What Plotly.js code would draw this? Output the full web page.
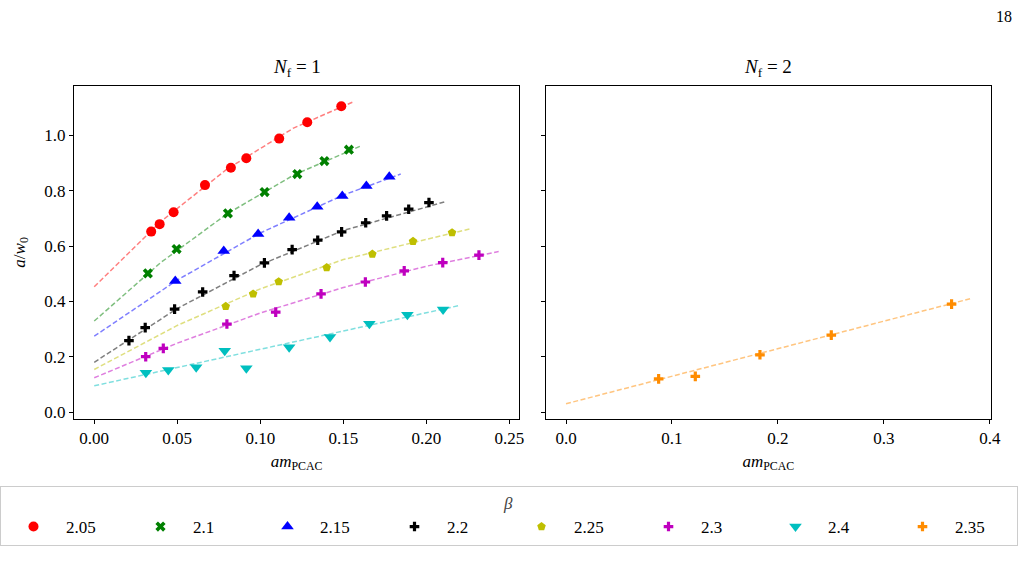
<!DOCTYPE html>
<html>
<head>
<meta charset="utf-8">
<script src="https://cdn.plot.ly/plotly-3.0.1.min.js"></script>
<style>html,body{margin:0;padding:0;background:#fff;}#chart{width:1019px;height:584px;}</style>
</head>
<body>
<div id="chart"></div>
<script>
// ---- data ----
const betaLabels = ["2.05", "2.1", "2.15", "2.2", "2.25", "2.3", "2.4", "2.35"];

// N_f = 1 panel
const x205 = [0.0343, 0.0394, 0.0478, 0.0667, 0.0823, 0.0916, 0.1114, 0.1283, 0.1488];
const y205 = [0.652, 0.679, 0.722, 0.820, 0.883, 0.917, 0.988, 1.047, 1.105];
const fx205 = [0, 0.04, 0.08, 0.12, 0.1564];
const fy205 = [0.453, 0.688, 0.878, 1.026, 1.122];

const x210 = [0.0323, 0.0496, 0.0805, 0.1026, 0.1223, 0.1386, 0.1534];
const y210 = [0.501, 0.589, 0.718, 0.795, 0.860, 0.907, 0.948];
const fx210 = [0, 0.04, 0.08, 0.12, 0.1608];
const fy210 = [0.329, 0.540, 0.716, 0.856, 0.962];

const x215 = [0.0488, 0.0780, 0.0987, 0.1174, 0.1343, 0.1494, 0.1639, 0.1777];
const y215 = [0.474, 0.582, 0.643, 0.702, 0.742, 0.781, 0.817, 0.850];
const fx215 = [0, 0.05, 0.10, 0.15, 0.1846];
const fy215 = [0.274, 0.477, 0.647, 0.784, 0.860];

const x220 = [0.0209, 0.0307, 0.0484, 0.0653, 0.0842, 0.1025, 0.1192, 0.1346, 0.1490, 0.1635, 0.1761, 0.1894, 0.2016];
const y220 = [0.258, 0.305, 0.372, 0.434, 0.493, 0.539, 0.587, 0.621, 0.651, 0.684, 0.709, 0.733, 0.757];
const fx220 = [0, 0.05, 0.10, 0.15, 0.2108];
const fy220 = [0.180, 0.374, 0.532, 0.656, 0.759];

const x225 = [0.0792, 0.0957, 0.1111, 0.1400, 0.1675, 0.1920, 0.2155];
const y225 = [0.382, 0.427, 0.471, 0.522, 0.571, 0.617, 0.648];
const fx225 = [0, 0.05, 0.10, 0.15, 0.2263];
const fy225 = [0.154, 0.313, 0.445, 0.551, 0.662];

const x230 = [0.0310, 0.0416, 0.0799, 0.1093, 0.1366, 0.1633, 0.1867, 0.2099, 0.2317];
const y230 = [0.200, 0.230, 0.318, 0.361, 0.427, 0.470, 0.510, 0.540, 0.567];
const fx230 = [0, 0.05, 0.10, 0.15, 0.20, 0.2436];
const fy230 = [0.124, 0.249, 0.358, 0.450, 0.527, 0.580];

const x240 = [0.0311, 0.0446, 0.0614, 0.0786, 0.0916, 0.1174, 0.1420, 0.1657, 0.1886, 0.2101];
const y240 = [0.142, 0.152, 0.162, 0.222, 0.158, 0.234, 0.271, 0.319, 0.352, 0.371];
const fx240 = [0, 0.10, 0.2191];
const fy240 = [0.095, 0.228, 0.384];

// N_f = 2 panel
const x235 = [0.0874, 0.1220, 0.1830, 0.2503, 0.3638];
const y235 = [0.120, 0.129, 0.207, 0.278, 0.390];
const fx235 = [0, 0.3818];
const fy235 = [0.030, 0.410];

const xTicksL = [0, 0.05, 0.10, 0.15, 0.20, 0.25];
const xTicksR = [0, 0.1, 0.2, 0.3, 0.4];
const yTicks = [0, 0.2, 0.4, 0.6, 0.8, 1.0];

// ---- styling ----
const FONT = "'Liberation Serif', 'DejaVu Serif', serif";
const series = [
  {lab: betaLabels[0], x: x205, y: y205, fx: fx205, fy: fy205, c: "#ff0000", sym: "circle", sz: 10, ax: 1},
  {lab: betaLabels[1], x: x210, y: y210, fx: fx210, fy: fy210, c: "#008000", sym: "x", sz: 9, ax: 1},
  {lab: betaLabels[2], x: x215, y: y215, fx: fx215, fy: fy215, c: "#0000ff", sym: "triangle-up", sz: 11, ax: 1},
  {lab: betaLabels[3], x: x220, y: y220, fx: fx220, fy: fy220, c: "#000000", sym: "cross", sz: 8, ax: 1},
  {lab: betaLabels[4], x: x225, y: y225, fx: fx225, fy: fy225, c: "#bfbf00", sym: "pentagon", sz: 9, ax: 1},
  {lab: betaLabels[5], x: x230, y: y230, fx: fx230, fy: fy230, c: "#bf00bf", sym: "cross", sz: 8, ax: 1},
  {lab: betaLabels[6], x: x240, y: y240, fx: fx240, fy: fy240, c: "#00bfbf", sym: "triangle-down", sz: 11, ax: 1},
  {lab: betaLabels[7], x: x235, y: y235, fx: fx235, fy: fy235, c: "#ff8c00", sym: "cross", sz: 8, ax: 2}
];

const traces = [];
series.forEach(s => {
  const xa = s.ax === 1 ? "x" : "x2";
  const ya = s.ax === 1 ? "y" : "y2";
  traces.push({
    x: s.fx, y: s.fy, xaxis: xa, yaxis: ya, mode: "lines", type: "scatter",
    line: {color: s.c, width: 1.5, dash: "5px,2.5px"}, opacity: 0.5,
    showlegend: false, hoverinfo: "skip"
  });
});
series.forEach(s => {
  const xa = s.ax === 1 ? "x" : "x2";
  const ya = s.ax === 1 ? "y" : "y2";
  traces.push({
    x: s.x, y: s.y, xaxis: xa, yaxis: ya, mode: "markers", type: "scatter",
    name: s.lab,
    marker: {color: s.c, symbol: s.sym, size: s.sz, line: {width: 0}}
  });
});

const axisCommon = {
  showline: true, mirror: true, linecolor: "#000", linewidth: 1.2,
  ticks: "outside", ticklen: 4, tickwidth: 1, tickcolor: "#000",
  showgrid: false, zeroline: false, automargin: false,
  tickfont: {family: FONT, size: 17, color: "#000"}
};

const layout = {
  width: 1019, height: 584,
  margin: {l: 0, r: 0, t: 0, b: 0},
  paper_bgcolor: "#fff", plot_bgcolor: "#fff",
  font: {family: FONT, size: 17, color: "#000"},
  xaxis: Object.assign({}, axisCommon, {
    domain: [0.0726, 0.5096], range: [-0.0122, 0.256], anchor: "y",
    tickvals: xTicksL, ticktext: xTicksL.map(v => v.toFixed(2)),
    title: {text: "<i>am</i><sub>PCAC</sub>", font: {family: FONT, size: 17}, standoff: 7}
  }),
  yaxis: Object.assign({}, axisCommon, {
    domain: [0.2830, 0.8527], range: [-0.024, 1.178], anchor: "x",
    tickvals: yTicks, ticktext: yTicks.map(v => v.toFixed(1)),
    title: {text: "<i>a</i>/<i>w</i><sub>0</sub>", font: {family: FONT, size: 17}, standoff: 14}
  }),
  xaxis2: Object.assign({}, axisCommon, {
    domain: [0.5358, 0.9722], range: [-0.0189, 0.4007], anchor: "y2",
    tickvals: xTicksR, ticktext: xTicksR.map(v => v.toFixed(1)),
    title: {text: "<i>am</i><sub>PCAC</sub>", font: {family: FONT, size: 17}, standoff: 7}
  }),
  yaxis2: Object.assign({}, axisCommon, {
    domain: [0.2830, 0.8527], range: [-0.024, 1.178], anchor: "x2",
    tickvals: yTicks, showticklabels: false
  }),
  showlegend: true,
  legend: {
    orientation: "h", x: 0.4956, xanchor: "center", y: 0.168, yanchor: "top",
    bordercolor: "#cccccc", borderwidth: 1, bgcolor: "#fff",
    font: {family: FONT, size: 17, color: "#000"},
    title: {text: "<i>β</i>", side: "top center", font: {family: FONT, size: 17, color: "#444"}},
    entrywidth: 57, entrywidthmode: "pixels", itemwidth: 55
  },
  annotations: [
    {text: "<i>N</i><sub>f</sub> = 1", xref: "paper", yref: "paper", x: 0.291, y: 0.8836,
     xanchor: "center", yanchor: "middle", showarrow: false, font: {family: FONT, size: 19}},
    {text: "<i>N</i><sub>f</sub> = 2", xref: "paper", yref: "paper", x: 0.754, y: 0.8836,
     xanchor: "center", yanchor: "middle", showarrow: false, font: {family: FONT, size: 19}},
    {text: "18", xref: "paper", yref: "paper", x: 0.985, y: 0.971,
     xanchor: "center", yanchor: "middle", showarrow: false, font: {family: FONT, size: 16}}
  ]
};

Plotly.newPlot("chart", traces, layout, {staticPlot: true, displayModeBar: false});
</script>
</body>
</html>
